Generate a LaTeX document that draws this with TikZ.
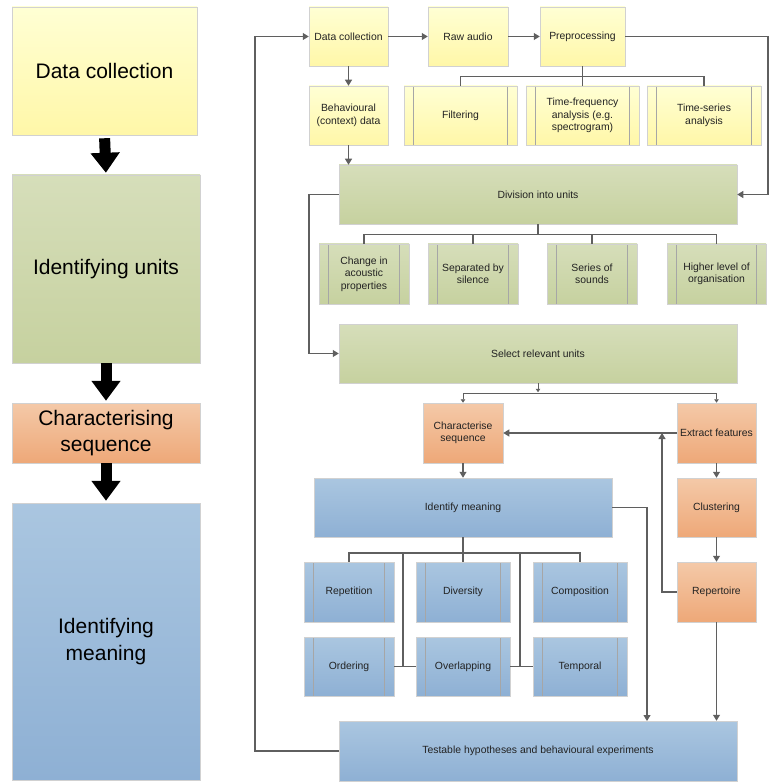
\documentclass[tikz,border=0pt]{standalone}
\usepackage{fontspec}
\setmainfont{Liberation Sans}
\usetikzlibrary{arrows.meta, shadows}

\definecolor{ylwTop}{HTML}{FFFFD4}
\definecolor{ylwBot}{HTML}{FFF7A8}
\definecolor{grnTop}{HTML}{D6DEBA}
\definecolor{grnBot}{HTML}{C6D19F}
\definecolor{orgTop}{HTML}{F4C9A8}
\definecolor{orgBot}{HTML}{EEA878}
\definecolor{bluTop}{HTML}{AAC6E0}
\definecolor{bluBot}{HTML}{8EB0D4}
\definecolor{wire}{HTML}{5F5F5F}
\definecolor{inktext}{HTML}{222222}

\tikzset{
  box/.style={draw=black!18, line width=0.5pt, inner sep=2pt, align=center, text=inktext,
    font=\fontsize{10.4}{12.5}\selectfont,
    drop shadow={shadow xshift=1pt, shadow yshift=-1pt, opacity=0.2}},
  ylw/.style={box, top color=ylwTop, bottom color=ylwBot},
  grn/.style={box, top color=grnTop, bottom color=grnBot},
  org/.style={box, top color=orgTop, bottom color=orgBot},
  blu/.style={box, top color=bluTop, bottom color=bluBot},
  sub/.style={path picture={
    \draw[black!35, line width=0.7pt]
      ([xshift=9.5pt]path picture bounding box.north west) -- ([xshift=9.5pt]path picture bounding box.south west)
      ([xshift=-9.5pt]path picture bounding box.north east) -- ([xshift=-9.5pt]path picture bounding box.south east);}},
  stage/.style={font=\fontsize{21}{26.5}\selectfont, text=black},
  conn/.style={draw=wire, line width=1.1pt, -{Triangle[length=6pt,width=7pt]}},
  smallconn/.style={draw=wire, line width=1pt, -{Triangle[length=3.5pt,width=4.5pt]}},
  wireline/.style={draw=wire, line width=1.1pt},
  bigarrow/.style={line width=11pt, -{Triangle[length=20pt,width=28pt]}},
}

\begin{document}
\begin{tikzpicture}[x=1pt, y=-1pt]
    \useasboundingbox (0,0) rectangle (770,783);

    % stages
    \node[ylw, stage, minimum width=185pt, minimum height=128pt] (lData) at (104.5,71) {Data collection};
    \node[grn, stage, minimum width=188pt, minimum height=188pt] (lUnits) at (106,269) {Identifying units};
    \node[org, stage, minimum width=188pt, minimum height=60pt] (lChar) at (106,433) {Characterising\\sequence};
    \node[blu, stage, minimum width=188pt, minimum height=277pt] (lMean) at (106,641.5) {Identifying\\meaning};

    \draw[bigarrow, shorten <=3pt, shorten >=2pt] (lData.south) -- (lUnits.north);
    \draw[bigarrow, shorten >=2pt] (lUnits.south) -- (lChar.north);
    \draw[bigarrow, shorten >=2pt] (lChar.south) -- (lMean.north);

    % data collection
    \node[ylw, minimum width=79pt, minimum height=59pt] (dcoll) at (348.5,36.5) {Data collection};
    \node[ylw, minimum width=80pt, minimum height=59pt] (raw) at (468,36.5) {Raw audio};
    \node[ylw, minimum width=85pt, minimum height=59pt] (prep) at (582.5,36.5) {Preprocessing};
    \node[ylw, minimum width=79pt, minimum height=59pt] (behav) at (348.5,115.5) {Behavioural\\(context) data};
    \node[ylw, sub, minimum width=113pt, minimum height=59pt] (filt) at (460.5,115.5) {Filtering};
    \node[ylw, sub, minimum width=113pt, minimum height=59pt] (tfa) at (582.5,115.5) {Time-frequency\\analysis (e.g.\\spectrogram)};
    \node[ylw, sub, minimum width=114pt, minimum height=59pt] (tsa) at (704,115.5) {Time-series\\analysis};

    % units
    \node[grn, minimum width=398pt, minimum height=59pt] (div) at (538,194.5) {Division into units};
    \node[grn, sub, minimum width=90pt, minimum height=60pt] (chg) at (364,274) {Change in\\acoustic\\properties};
    \node[grn, sub, minimum width=90pt, minimum height=60pt] (sep) at (473,274) {Separated by\\silence};
    \node[grn, sub, minimum width=90pt, minimum height=60pt] (ser) at (592,274) {Series of\\sounds};
    \node[grn, sub, minimum width=99pt, minimum height=60pt] (high) at (716.5,274) {Higher level of\\organisation};
    \node[grn, minimum width=398pt, minimum height=59pt] (sel) at (538,353.5) {Select relevant units};

    % sequence
    \node[org, minimum width=80pt, minimum height=60pt] (charseq) at (463,433) {Characterise\\sequence};
    \node[org, minimum width=79pt, minimum height=60pt] (extr) at (716.5,433) {Extract features};
    \node[org, minimum width=79pt, minimum height=59pt] (clus) at (716.5,507.5) {Clustering};
    \node[org, minimum width=79pt, minimum height=60pt] (rep) at (716.5,592) {Repertoire};

    % meaning
    \node[blu, minimum width=298pt, minimum height=59pt] (ident) at (463,507.5) {Identify meaning};
    \node[blu, sub, minimum width=90pt, minimum height=60pt] (repe) at (349,592) {Repetition};
    \node[blu, sub, minimum width=94pt, minimum height=60pt] (dive) at (463,592) {Diversity};
    \node[blu, sub, minimum width=94pt, minimum height=60pt] (comp) at (580,592) {Composition};
    \node[blu, sub, minimum width=90pt, minimum height=59pt] (orde) at (349,666.5) {Ordering};
    \node[blu, sub, minimum width=94pt, minimum height=59pt] (over) at (463,666.5) {Overlapping};
    \node[blu, sub, minimum width=94pt, minimum height=59pt] (temp) at (580,666.5) {Temporal};
    \node[blu, minimum width=398pt, minimum height=60pt] (test) at (538,751) {Testable hypotheses and behavioural experiments};

    \coordinate (lEdge) at (255,400);
    \coordinate (rEdge) at (768,194.5);
    \coordinate (lLoop) at (309,274);
    \coordinate (fbk) at (662,433);
    \coordinate (hypIn) at (647,721);
    \coordinate (bar) at (463,553);
    \coordinate (jA) at (403,666.5);
    \coordinate (jB) at (520,666.5);

    \draw[conn] (dcoll) -- (raw);
    \draw[conn] (raw) -- (prep);
    \draw[conn] (dcoll) -- (behav);
    \draw[conn] (behav.south) -- (behav.south |- div.north);
    \draw[conn] (prep.east) -| (rEdge) -- (div.east);
    \draw[conn] (test.west) -| (lEdge) |- (dcoll.west);

    \draw[wireline] (prep.south) -- (tfa.north);
    \draw[wireline] (prep.south) ++(0,10) -| (filt.north);
    \draw[wireline] (prep.south) ++(0,10) -| (tsa.north);

    \draw[wireline] (div.south) -- ++(0,10);
    \draw[wireline] (div.south) ++(0,10) -| (chg.north);
    \draw[wireline] (div.south) ++(0,10) -| (sep.north);
    \draw[wireline] (div.south) ++(0,10) -| (ser.north);
    \draw[wireline] (div.south) ++(0,10) -| (high.north);
    \draw[conn] (div.west) -| (lLoop) |- (sel.west);

    \draw[smallconn] (sel.south) -- ++(0,9);
    \draw[smallconn] (sel.south) ++(0,10) -| (charseq.north);
    \draw[smallconn] (sel.south) ++(0,10) -| (extr.north);

    \draw[conn] (extr) -- (charseq);
    \draw[conn] (extr) -- (clus);
    \draw[conn] (clus) -- (rep);
    \draw[conn] (rep.west) -| (fbk);
    \draw[conn] (charseq) -- (ident);
    \draw[conn] (ident.east) -| (hypIn);
    \draw[conn] (rep.south) -- (rep.south |- test.north);

    \draw[wireline] (ident.south) -- (dive.north);
    \draw[wireline] (bar) -| (repe.north);
    \draw[wireline] (bar) -| (comp.north);
    \draw[wireline] (jA |- bar) -- (jA);
    \draw[wireline] (jB |- bar) -- (jB);
    \draw[wireline] (orde.east) -- (over.west);
    \draw[wireline] (over.east) -- (temp.west);
\end{tikzpicture}
\end{document}
